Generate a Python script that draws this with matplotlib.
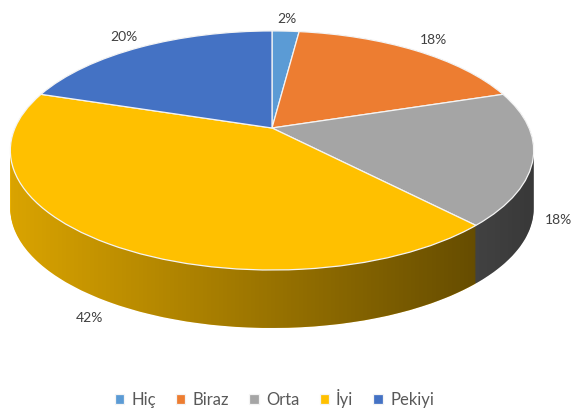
import numpy as np
import matplotlib
matplotlib.use('Agg')
import matplotlib.pyplot as plt
from matplotlib.path import Path
from matplotlib.patches import PathPatch
from matplotlib.transforms import Transform

# data
categories = ['Hiç', 'Biraz', 'Orta', 'İyi', 'Pekiyi']
values = [2, 18, 18, 42, 20]
colors = ['#5B9BD5', '#ED7D31', '#A5A5A5', '#FFC000', '#4472C4']

plt.rcParams['font.family'] = ['Lato', 'DejaVu Sans']

# tilted view of the pie (pixel units, y going down)
cx, cy = 272, 128
p = 0.188       # perspective strength
sx = 257        # horizontal radius
sy = 115.3      # vertical radius factor
depth = 58      # thickness of the pie

class Tilt(Transform):
	input_dims = 2
	output_dims = 2
	is_separable = False
	has_inverse = False

	def __init__(self, shift=0.0):
		Transform.__init__(self)
		self.shift = shift

	def transform_non_affine(self, values):
		v = np.asarray(values, dtype=float)
		x, y = v[:, 0], v[:, 1]
		w = 1 + p * y
		return np.column_stack([cx + sx * x / w, cy - sy * y / w + self.shift])

fig = plt.figure(figsize=(5.84, 4.18), dpi=100)
ax = fig.add_axes([0, 0, 1, 1])

# side of the pie: stacked copies shifted downwards
for k in np.linspace(depth, 0.5, 60):
	ws, _ = ax.pie(values, colors=colors, startangle=90, counterclock=False,
		radius=1, wedgeprops=dict(linewidth=0))
	for w in ws:
		w.set_transform(Tilt(k) + ax.transData)

# shading of the side, light on the left, dark on the right
a = np.arcsin(p)
t_top = np.linspace(-a, np.pi + a, 200)
t_bot = np.linspace(np.pi + a, 2 * np.pi - a, 200)
outline = np.concatenate([Tilt(0).transform(np.column_stack([np.cos(t_top), np.sin(t_top)])),
	Tilt(depth).transform(np.column_stack([np.cos(t_bot), np.sin(t_bot)]))])
band = PathPatch(Path(outline), facecolor='none', edgecolor='none')
ax.add_patch(band)
grad = np.zeros((2, 256, 4))
grad[..., 3] = np.linspace(0.15, 0.66, 256)[None, :]
left, right = outline[:, 0].min(), outline[:, 0].max()
img = ax.imshow(grad, extent=(left, right, outline[:, 1].max(), outline[:, 1].min()),
	aspect='auto', zorder=2)
img.set_clip_path(band)

# top face
wedges, _, pcts = ax.pie(values, colors=colors, startangle=90, counterclock=False,
	radius=1, autopct='%d%%', pctdistance=1.15,
	wedgeprops=dict(edgecolor='#f4f4f4', linewidth=0.9),
	textprops=dict(color='#404040', fontsize=10))
for w in wedges:
	w.set_transform(Tilt(0) + ax.transData)
	w.set_zorder(3)
for t in pcts:
	x, y = t.get_position()
	if y < 0:
		t.set_position((x * 0.95, y * 0.97))
		t.set_transform(Tilt(depth) + ax.transData)
	else:
		t.set_transform(Tilt(0) + ax.transData)
	t.set_zorder(4)

ax.set_aspect('auto')
ax.set_xlim(0, 584)
ax.set_ylim(418, 0)
ax.axis('off')

fig.legend(wedges, categories, loc='lower center', ncol=5, frameon=False,
	bbox_to_anchor=(0.47, -0.012), handlelength=0.55, handleheight=0.55,
	handletextpad=0.45, columnspacing=1.2, fontsize=12, labelcolor='#595959')

fig.savefig('out.png', dpi=100, facecolor='white')
